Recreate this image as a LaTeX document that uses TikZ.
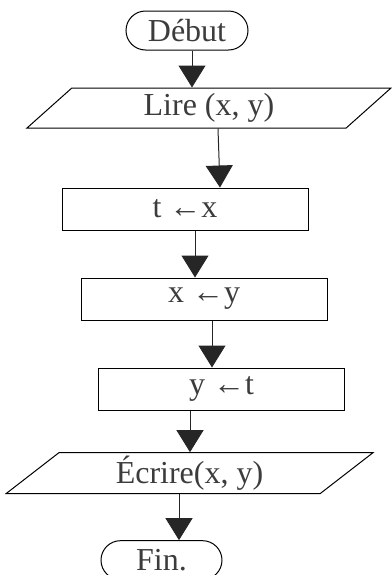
\documentclass[tikz,border=0pt]{standalone}
\usepackage{fontspec}
\setmainfont{Liberation Serif}
\usepackage{xcolor}
\definecolor{txtgray}{RGB}{60, 60, 60}
\usepackage{tikz}
\usetikzlibrary{shapes.geometric, shapes.misc, arrows.meta, positioning}

\begin{document}
\begin{tikzpicture}[node distance=35pt,
        termbox/.style={rounded rectangle, draw, line width=0.75pt, minimum width=91.5pt, minimum height=29.25pt, inner sep=0pt, text=txtgray, font=\fontsize{24}{28}\selectfont},
        iobox/.style={trapezium, trapezium left angle=33, trapezium right angle=147, trapezium stretches body, draw, line width=0.75pt, minimum width=273pt, minimum height=30pt, inner sep=0pt, text=txtgray, font=\fontsize{24}{28}\selectfont},
        opbox/.style={rectangle, draw, line width=0.75pt, minimum width=184.5pt, minimum height=31.5pt, inner sep=0pt, text=txtgray, font=\fontsize{24}{28}\selectfont},
        line/.style={draw=black!85, line width=0.75pt, -{Triangle[length=16.5pt, width=20.25pt]}}]

        \useasboundingbox (0,0) rectangle (294pt,-431.25pt);

        % Début -> lecture
        \node [termbox] (debut) at (140.25pt,-22.875pt) {Début};
        \node [iobox, below=27.75pt of debut, xshift=16.5pt] (lire) {Lire (x, y)};

        % échange des valeurs
        \node [opbox, below=44.25pt of lire, xshift=-18pt] (tx) {t ←x};
        \node [opbox, below=35.25pt of tx, xshift=14.25pt] (xy) {x ←y};
        \node [opbox, below=35.25pt of xy, xshift=13.125pt, minimum width=185pt, minimum height=32pt] (yt) {y ←t};

        % écriture -> fin
        \node [iobox, below=30.75pt of yt, xshift=-24pt, minimum height=30.75pt, minimum width=275.25pt] (ecrire) {Écrire(x, y)};
        \node [termbox, below=34.5pt of ecrire, xshift=-21pt, minimum width=90.75pt] (fin) {Fin.};

        \path [line] ([xshift=3.75pt]debut.south) -- ([xshift=3.75pt]debut.south |- lire.north);
        \path [line] ([xshift=6.75pt]lire.south) -- ([xshift=26.25pt]tx.north);
        \path [line] ([xshift=7.5pt]tx.south) -- ([xshift=7.5pt]tx.south |- xy.north);
        \path [line] ([xshift=6pt]xy.south) -- ([xshift=6pt]xy.south |- yt.north);
        \path [line] ([xshift=-23.625pt]yt.south) -- ([xshift=-23.625pt]yt.south |- ecrire.north);
        \path [line] ([xshift=-7.875pt]ecrire.south) -- ([xshift=-7.875pt]ecrire.south |- fin.north);
    \end{tikzpicture}
\end{document}
